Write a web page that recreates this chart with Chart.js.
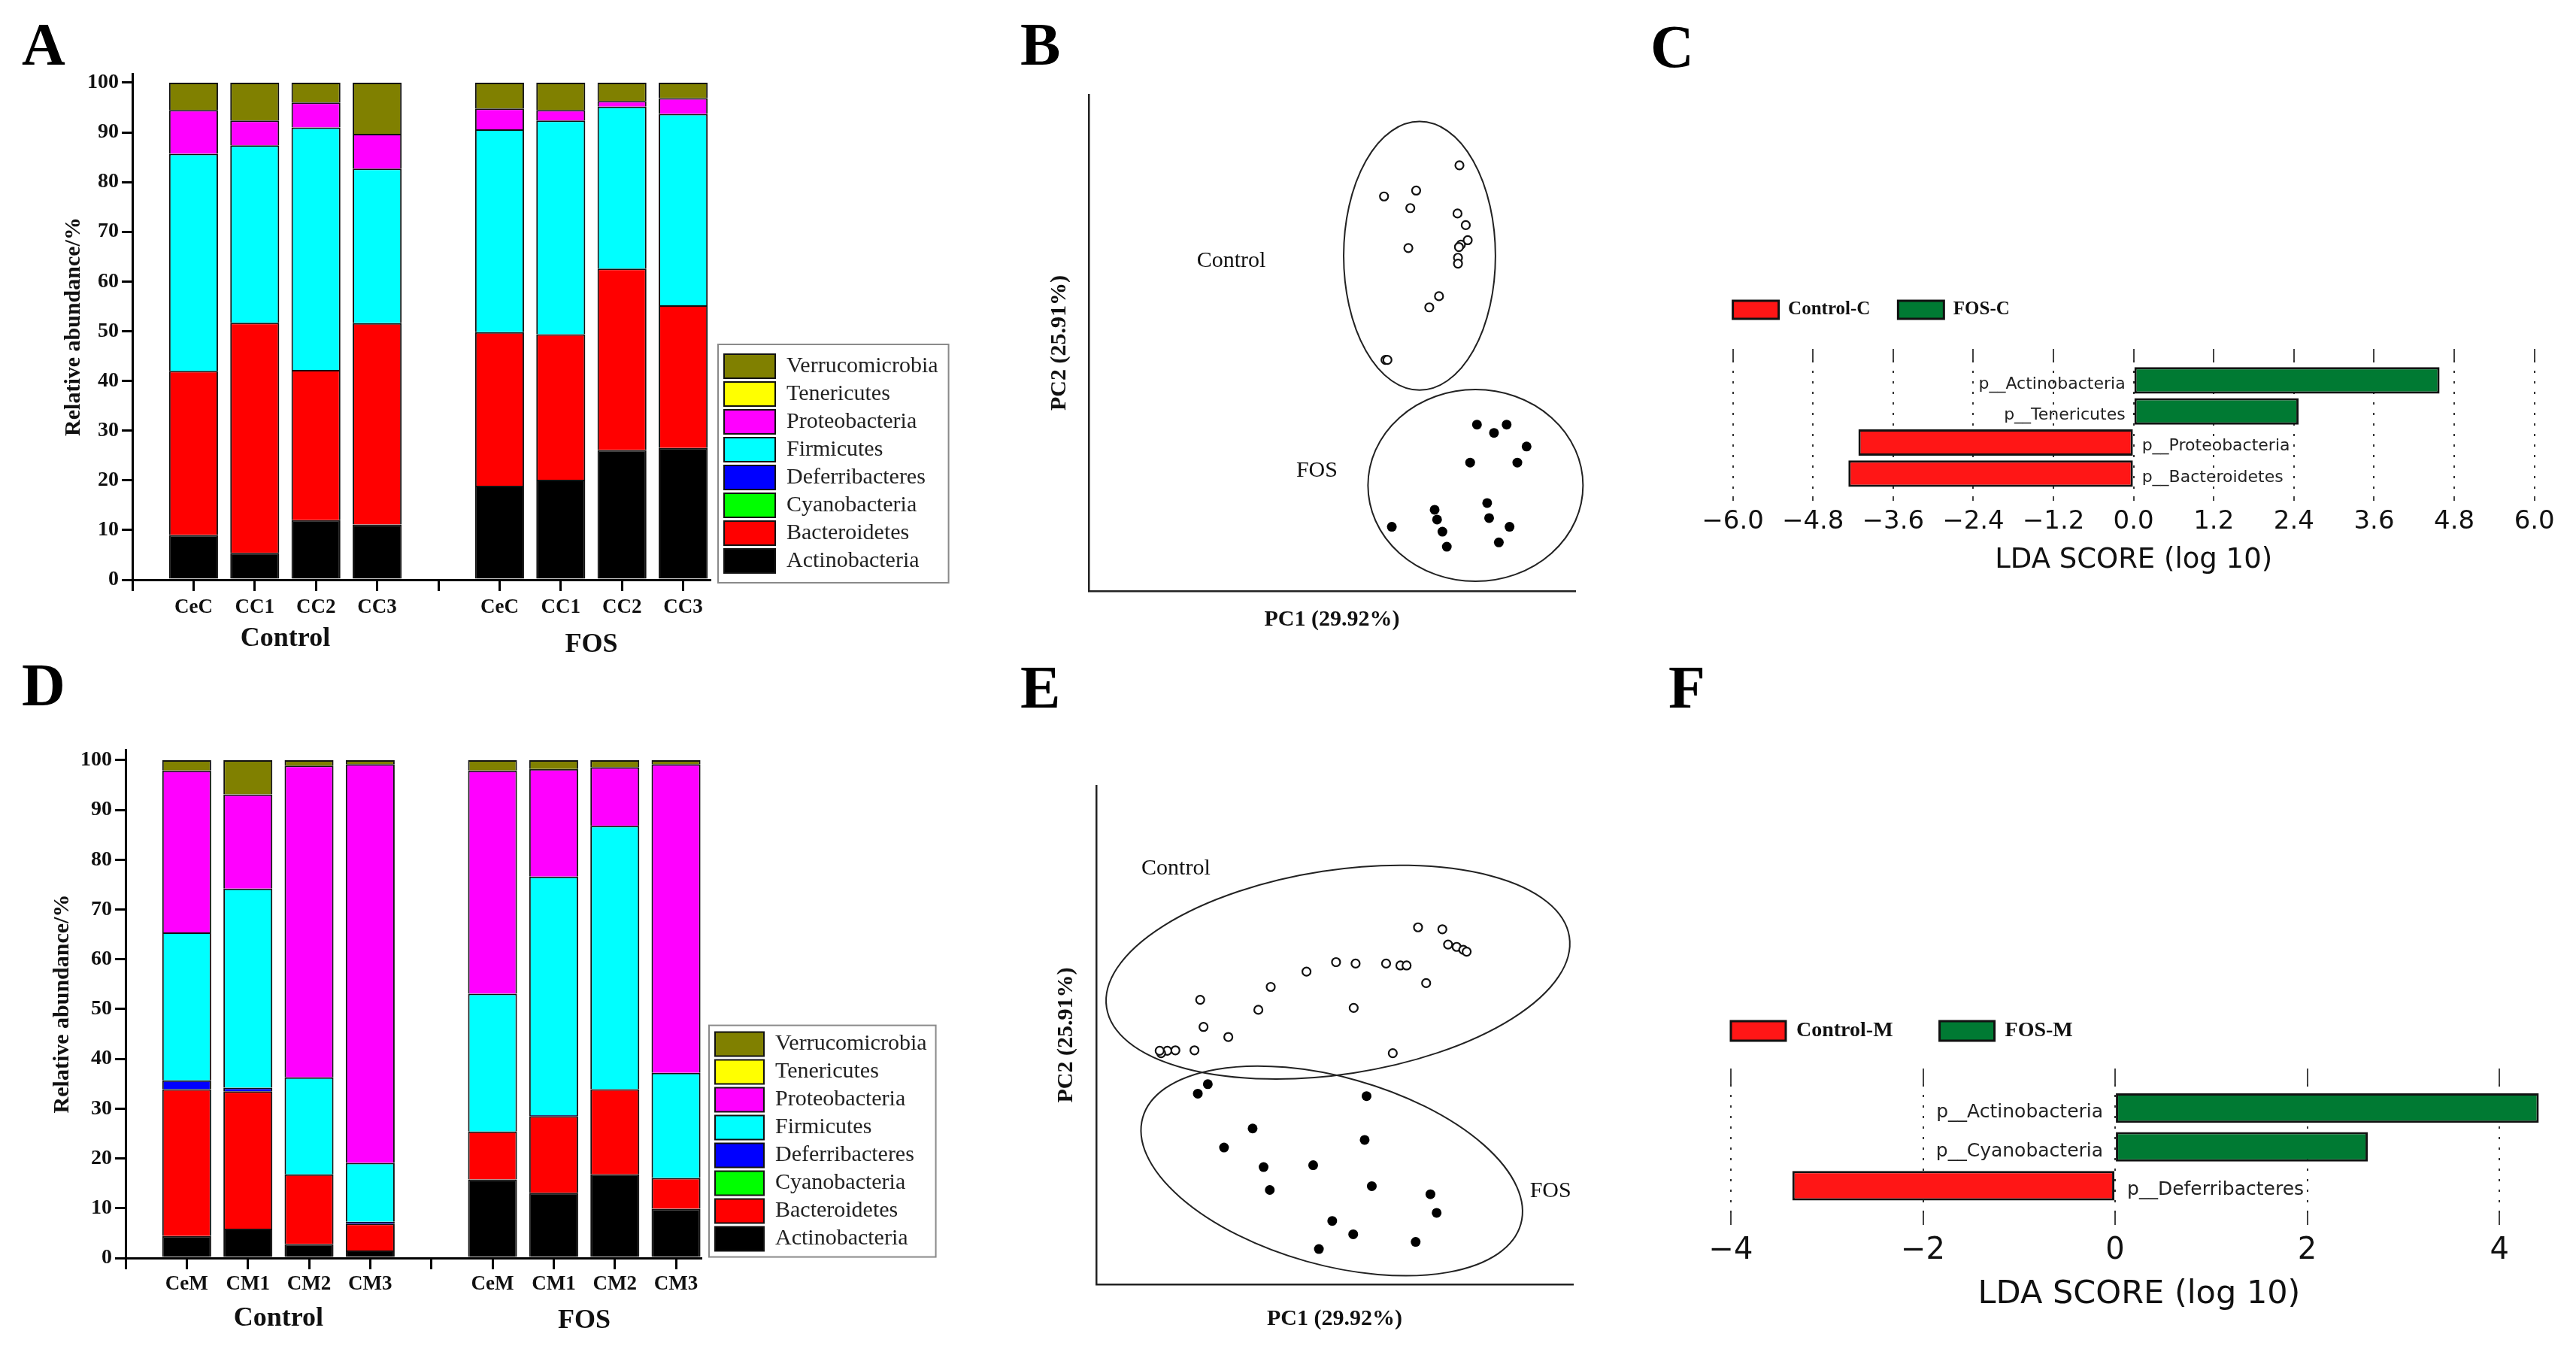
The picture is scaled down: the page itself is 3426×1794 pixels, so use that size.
<!DOCTYPE html>
<html lang="en">
<head>
<meta charset="utf-8">
<title>Phylum composition, PCoA and LEfSe</title>
<script src="https://cdn.jsdelivr.net/npm/chart.js@4.4.1/dist/chart.umd.min.js"></script>
<style>
  html, body { margin: 0; padding: 0; background: #fff; }
  body { position: relative; width: 3426px; height: 1794px; overflow: hidden; }
  .panel { position: absolute; }
  .panel canvas { display: block; }
  .letter { position: absolute; margin: 0; font: bold 80px "Liberation Serif", "Times New Roman", serif; line-height: 80px; color: #000; }
</style>
</head>
<body>
<div class="panel" style="left:0; top:0; width:1290px; height:880px;"><canvas id="chartA"></canvas></div>
<div class="panel" style="left:1300px; top:0; width:850px; height:880px;"><canvas id="chartB"></canvas></div>
<div class="panel" style="left:2150px; top:0; width:1276px; height:880px;"><canvas id="chartC"></canvas></div>
<div class="panel" style="left:0; top:880px; width:1275px; height:914px;"><canvas id="chartD"></canvas></div>
<div class="panel" style="left:1300px; top:880px; width:850px; height:914px;"><canvas id="chartE"></canvas></div>
<div class="panel" style="left:2150px; top:880px; width:1276px; height:914px;"><canvas id="chartF"></canvas></div>

<div class="letter" style="left:29px; top:19px;">A</div>
<div class="letter" style="left:1357px; top:19px;">B</div>
<div class="letter" style="left:2195px; top:22px;">C</div>
<div class="letter" style="left:29px; top:871px;">D</div>
<div class="letter" style="left:1357px; top:874px;">E</div>
<div class="letter" style="left:2219px; top:874px;">F</div>

<script>
const serif = "'Liberation Serif', 'Times New Roman', serif";
const sans = "'DejaVu Sans', 'Bitstream Vera Sans', sans-serif";

Chart.defaults.font.family = serif;
Chart.defaults.color = '#111';
Chart.defaults.animation = false;
Chart.defaults.plugins.tooltip.enabled = false;

// ---- relative abundance (A, D) ----
const phyla = ['Actinobacteria', 'Bacteroidetes', 'Cyanobacteria', 'Deferribacteres',
               'Firmicutes', 'Proteobacteria', 'Tenericutes', 'Verrucomicrobia'];
const phylumColors = ['#000000', '#ff0000', '#00ff00', '#0000ff', '#00ffff', '#ff00ff', '#ffff00', '#808000'];
const samplePos = [1, 2, 3, 4, 6, 7, 8, 9];
const groupNames = ['Control', 'FOS'];
const groupPos = [2.5, 7.5];
const sampleTicksA = ['', 'CeC', 'CC1', 'CC2', 'CC3', '', 'CeC', 'CC1', 'CC2', 'CC3'];
const sampleTicksD = ['', 'CeM', 'CM1', 'CM2', 'CM3', '', 'CeM', 'CM1', 'CM2', 'CM3'];
const abundanceTicks = [0, 5, 10, 15, 20, 25, 30, 35, 40, 45, 50, 55, 60, 65, 70, 75, 80, 85, 90, 95, 100];

const actinoA   = [9.0, 5.4, 12.0, 11.1, 18.9, 20.1, 26.1, 26.5];
const bacteroA  = [33.0, 46.3, 30.2, 40.5, 30.9, 29.3, 36.5, 28.7];
const cyanoA    = [0, 0, 0, 0, 0, 0, 0, 0];
const deferriA  = [0, 0, 0, 0, 0, 0, 0, 0];
const firmiA    = [43.7, 35.7, 48.8, 31.1, 40.8, 43.0, 32.6, 38.5];
const proteoA   = [8.8, 5.0, 5.0, 7.0, 4.2, 2.1, 1.1, 3.2];
const teneriA   = [0, 0, 0, 0, 0, 0, 0, 0];
const verrucoA  = [5.5, 7.6, 4.0, 10.3, 5.2, 5.5, 3.7, 3.1];

const actinoD   = [4.4, 5.9, 2.8, 1.5, 15.8, 13.1, 16.8, 9.9];
const bacteroD  = [29.5, 27.6, 14.0, 5.4, 9.6, 15.4, 17.1, 6.2];
const cyanoD    = [0, 0, 0, 0, 0, 0, 0, 0];
const deferriD  = [1.8, 0.7, 0, 0.4, 0, 0.2, 0, 0];
const firmiD    = [29.7, 40.0, 19.5, 11.8, 27.7, 47.9, 52.9, 21.1];
const proteoD   = [32.5, 18.9, 62.6, 80.1, 44.8, 21.6, 11.8, 62.0];
const teneriD   = [0, 0, 0, 0, 0, 0, 0, 0];
const verrucoD  = [2.1, 6.9, 1.1, 0.8, 2.1, 1.8, 1.4, 0.8];

// ---- PCoA scores (PC1, PC2) ----
const controlB = [[76.2, 87.5], [60.7, 81.1], [67.3, 82.3], [66.1, 78.7], [75.8, 77.6], [77.5, 75.2],
                  [77.9, 72.1], [76.5, 71.2], [76.1, 70.7], [65.7, 70.5], [75.9, 68.5], [75.9, 67.3],
                  [72.0, 60.6], [70.0, 58.3], [61.0, 47.5], [61.4, 47.5]];
const fosB = [[79.8, 34.2], [85.9, 34.2], [83.3, 32.5], [90.0, 29.7], [78.4, 26.4], [88.1, 26.4],
              [81.9, 18.1], [71.1, 16.7], [71.6, 14.7], [82.3, 15.0], [62.3, 13.2], [86.5, 13.2],
              [72.7, 12.2], [84.3, 10.0], [73.6, 9.1]];
// ellipse: centre x, centre y, semi-axis 1, semi-axis 2, angle (deg)
const ellipseControlB = [68.0, 68.9, 15.6, 27.6, 0];
const ellipseFosB = [79.5, 21.7, 22.1, 19.7, 0];

const controlE = [[67.5, 74.9], [72.6, 74.5], [73.8, 71.3], [75.6, 70.8], [77.0, 70.2], [77.7, 69.8],
                  [50.3, 67.6], [54.4, 67.3], [60.8, 67.3], [63.8, 66.9], [65.1, 66.9], [44.1, 65.6],
                  [69.2, 63.2], [36.6, 62.4], [21.8, 59.7], [34.0, 57.6], [54.0, 58.0], [22.5, 54.0],
                  [27.7, 51.9], [20.6, 49.1], [16.6, 49.1], [14.9, 49.0], [13.6, 48.5], [13.3, 49.0],
                  [62.2, 48.5]];
const fosE = [[23.4, 42.0], [21.3, 40.0], [56.7, 39.5], [32.8, 32.7], [56.3, 30.3], [26.8, 28.7],
              [35.1, 24.6], [45.5, 25.0], [36.4, 19.8], [57.8, 20.6], [70.1, 18.9], [71.4, 15.0],
              [49.5, 13.3], [53.9, 10.5], [67.0, 8.9], [46.7, 7.4]];
const ellipseControlE = [50.7, 65.5, 49.1, 21.4, 8.7];
const ellipseFosE = [49.4, 23.8, 41.2, 19.7, -15.7];

// ---- LEfSe LDA scores ----
const ldaNamesC = ['p__Actinobacteria', 'p__Tenericutes', 'p__Proteobacteria', 'p__Bacteroidetes'];
const ldaScoresC = [4.58, 2.47, -4.12, -4.27];
const ldaGroupsC = ['Control-C', 'FOS-C'];
const ldaTicksC = [-6.0, -4.8, -3.6, -2.4, -1.2, 0.0, 1.2, 2.4, 3.6, 4.8, 6.0];

const ldaNamesF = ['p__Actinobacteria', 'p__Cyanobacteria', 'p__Deferribacteres'];
const ldaScoresF = [4.41, 2.63, -3.36];
const ldaGroupsF = ['Control-M', 'FOS-M'];
const ldaTicksF = [-4, -2, 0, 2, 4];

// move the legend items to a fixed spot, optionally box them in
const legendPlace = {
  id: 'legendPlace',
  afterUpdate(chart, args, opts) {
    const lg = chart.legend;
    if (!lg || opts.x === undefined || !(lg.legendHitBoxes && lg.legendHitBoxes.length)) return;
    const first = lg.legendHitBoxes[0];
    const dx = opts.x - first.left;
    const dy = opts.y - first.top;
    lg.left += dx; lg.right += dx;
    lg.top += dy; lg.bottom += dy;
    lg.bottom = Math.max(lg.bottom, opts.y + 120);
    lg.legendHitBoxes.forEach(b => { b.left += dx; b.top += dy; });
  },
  afterDraw(chart, args, opts) {
    if (!opts.frame) return;
    const boxes = chart.legend.legendHitBoxes;
    const [ml, mt, mr, mb] = opts.frame;
    const l = Math.min(...boxes.map(b => b.left)) - ml;
    const t = Math.min(...boxes.map(b => b.top)) - mt;
    const r = Math.max(...boxes.map(b => b.left + b.width)) + mr;
    const btm = Math.max(...boxes.map(b => b.top + b.height)) + mb;
    const ctx = chart.ctx;
    ctx.save();
    ctx.strokeStyle = '#8a8a8a';
    ctx.lineWidth = 2;
    ctx.strokeRect(l, t, r - l, btm - t);
    ctx.restore();
  }
};

const groupLabels = {
  id: 'groupLabels',
  afterDraw(chart, args, opts) {
    if (!opts.names) return;
    const {ctx, chartArea} = chart;
    const x = chart.scales.x;
    ctx.save();
    ctx.font = `bold 36px ${serif}`;
    ctx.fillStyle = '#111';
    ctx.textAlign = 'center';
    ctx.textBaseline = 'middle';
    opts.names.forEach((name, i) => {
      ctx.fillText(name, x.getPixelForValue(opts.at[i]), chartArea.bottom + opts.dy[i]);
    });
    ctx.restore();
  }
};

const pcoaMarks = {
  id: 'pcoaMarks',
  afterDatasetsDraw(chart, args, opts) {
    if (!opts.ellipses) return;
    const ctx = chart.ctx;
    const x = chart.scales.x, y = chart.scales.y;
    const ux = x.getPixelForValue(1) - x.getPixelForValue(0);
    const uy = y.getPixelForValue(0) - y.getPixelForValue(1);
    ctx.save();
    ctx.strokeStyle = '#222';
    ctx.lineWidth = 2;
    opts.ellipses.forEach(e => {
      ctx.beginPath();
      ctx.ellipse(x.getPixelForValue(e[0]), y.getPixelForValue(e[1]), e[2] * ux, e[3] * uy,
                  -e[4] * Math.PI / 180, 0, 2 * Math.PI);
      ctx.stroke();
    });
    ctx.font = `30px ${serif}`;
    ctx.fillStyle = '#111';
    ctx.textAlign = 'center';
    ctx.textBaseline = 'middle';
    opts.names.forEach((name, i) => {
      ctx.fillText(name, x.getPixelForValue(opts.textAt[i][0]), y.getPixelForValue(opts.textAt[i][1]));
    });
    ctx.restore();
  }
};

const ldaLabels = {
  id: 'ldaLabels',
  afterDatasetsDraw(chart, args, opts) {
    if (!opts.names) return;
    const ctx = chart.ctx;
    const x = chart.scales.x, y = chart.scales.y;
    const zero = x.getPixelForValue(0);
    ctx.save();
    ctx.font = `${opts.size}px ${sans}`;
    ctx.fillStyle = '#222';
    ctx.textBaseline = 'middle';
    opts.names.forEach((name, i) => {
      const up = opts.scores[i] > 0;
      ctx.textAlign = up ? 'right' : 'left';
      ctx.fillText(name, zero + (up ? -opts.gap : opts.gap), y.getPixelForValue(i) + opts.drop);
    });
    ctx.restore();
  }
};

function abundanceChart(id, series, tickLabels, cfg) {
  new Chart(document.getElementById(id), {
    type: 'bar',
    data: {
      datasets: phyla.map((name, k) => ({
        label: name,
        data: series[k].map((v, i) => ({x: samplePos[i], y: v})),
        backgroundColor: phylumColors[k],
        borderColor: '#111',
        borderWidth: 2,
        barPercentage: 0.8,
        categoryPercentage: 1
      }))
    },
    options: {
      responsive: true,
      maintainAspectRatio: false,
      layout: {padding: {top: cfg.top, right: cfg.right}},
      plugins: {
        legend: {
          position: 'right',
          align: 'start',
          reverse: true,
          labels: {boxWidth: cfg.boxW, boxHeight: 32, padding: 5, color: '#222', font: {size: 30}}
        },
        legendPlace: {x: cfg.legX, y: cfg.legY, frame: cfg.frame},
        groupLabels: {names: groupNames, at: groupPos, dy: cfg.groupDy}
      },
      scales: {
        x: {
          type: 'linear',
          stacked: true,
          offset: false,
          min: 0,
          max: cfg.xMax,
          afterBuildTicks: s => { s.ticks = tickLabels.map((t, i) => ({value: i})); },
          afterFit: s => { s.height = cfg.xHeight; },
          border: {color: '#000', width: 3},
          grid: {offset: false, drawOnChartArea: false, color: '#000', lineWidth: 3, tickLength: 15},
          ticks: {
            autoSkip: false, maxRotation: 0, padding: cfg.xTickPad, color: '#111',
            font: {size: 27, weight: 'bold'},
            callback: v => tickLabels[v]
          }
        },
        y: {
          stacked: true,
          min: 0,
          max: cfg.yMax,
          afterBuildTicks: s => { s.ticks = abundanceTicks.map(v => ({value: v})); },
          afterFit: s => { s.width = cfg.yWidth; },
          border: {color: '#000', width: 3},
          grid: {
            drawOnChartArea: false, color: '#000', lineWidth: 3, tickLength: 14,
            tickBorderDash: c => (c.tick && c.tick.value % 10 ? [7, 7] : []),
            tickBorderDashOffset: c => (c.tick && c.tick.value % 10 ? 7 : 0)
          },
          ticks: {
            padding: 4, color: '#111', font: {size: 28, weight: 'bold'},
            callback: v => (v % 10 === 0 ? String(v) : '')
          },
          title: {
            display: true, text: 'Relative abundance/%', color: '#111',
            font: {size: 30, weight: 'bold'}, padding: {top: cfg.yTitlePad}
          }
        }
      }
    },
    plugins: [legendPlace, groupLabels]
  });
}

function pcoaChart(id, control, fos, ellipses, cfg) {
  new Chart(document.getElementById(id), {
    type: 'scatter',
    data: {
      datasets: [
        {
          label: 'Control',
          data: control.map(p => ({x: p[0], y: p[1]})),
          pointRadius: 5.5, pointBorderWidth: 2.2,
          pointBackgroundColor: '#fff', pointBorderColor: '#111'
        },
        {
          label: 'FOS',
          data: fos.map(p => ({x: p[0], y: p[1]})),
          pointRadius: 6.5, pointBorderWidth: 0,
          pointBackgroundColor: '#000', pointBorderColor: '#000'
        }
      ]
    },
    options: {
      responsive: true,
      maintainAspectRatio: false,
      layout: {padding: {top: cfg.top, right: cfg.right}},
      plugins: {
        legend: {display: false},
        pcoaMarks: {ellipses: ellipses, names: groupNames, textAt: cfg.textAt}
      },
      scales: {
        x: {
          min: 0, max: 100,
          afterFit: s => { s.height = cfg.xHeight; },
          grid: {display: false},
          ticks: {display: false},
          border: {color: '#222', width: 2.5},
          title: {display: true, text: 'PC1 (29.92%)', color: '#111',
                  font: {size: 30, weight: 'bold'}, padding: {bottom: cfg.xTitlePad}}
        },
        y: {
          min: 0, max: cfg.yMax,
          afterFit: s => { s.width = cfg.yWidth; },
          grid: {display: false},
          ticks: {display: false},
          border: {color: '#222', width: 2.5},
          title: {display: true, text: 'PC2 (25.91%)', color: '#111',
                  font: {size: 30, weight: 'bold'}, padding: {top: cfg.yTitlePad}}
        }
      }
    },
    plugins: [pcoaMarks]
  });
}

function ldaChart(id, names, scores, groups, ticks, cfg) {
  const points = scores.map((v, i) => ({x: v, y: i}));
  const fmt = v => (v < 0 ? '\u2212' : '') + Math.abs(v).toFixed(cfg.digits);
  const tickList = s => { s.ticks = ticks.map(v => ({value: v})); };
  new Chart(document.getElementById(id), {
    type: 'bar',
    data: {
      datasets: [
        {label: groups[0], data: points.filter(p => p.x < 0), backgroundColor: '#ff1616'},
        {label: groups[1], data: points.filter(p => p.x > 0), backgroundColor: '#007a33'}
      ]
    },
    options: {
      indexAxis: 'y',
      responsive: true,
      maintainAspectRatio: false,
      layout: {padding: {left: cfg.left, top: cfg.top, right: cfg.right}},
      datasets: {
        bar: {borderColor: '#111', borderWidth: 3, borderSkipped: false, grouped: false,
              categoryPercentage: 1, barPercentage: cfg.barPct}
      },
      plugins: {
        legend: {
          position: 'top',
          align: 'start',
          maxHeight: 30,
          labels: {boxWidth: cfg.boxW, boxHeight: cfg.boxH, padding: cfg.legPad, color: '#111',
                   font: {size: cfg.legSize, weight: 'bold'}}
        },
        legendPlace: {x: cfg.legX, y: cfg.legY},
        ldaLabels: {names: names, scores: scores, size: cfg.nameSize, gap: cfg.gap, drop: cfg.drop}
      },
      scales: {
        x: {
          type: 'linear', min: ticks[0], max: cfg.xMax, z: 1,
          afterBuildTicks: tickList,
          afterFit: s => { s.height = cfg.xHeight; },
          border: {display: false, dash: [3, 11]},
          grid: {color: '#333', lineWidth: 2, tickLength: cfg.bottomTick, tickColor: '#444', tickBorderDash: []},
          ticks: {autoSkip: false, maxRotation: 0, padding: cfg.tickPad, color: '#111',
                  font: {family: sans, size: cfg.tickSize}, callback: fmt},
          title: {display: true, text: 'LDA SCORE (log 10)', color: '#111',
                  font: {family: sans, size: cfg.titleSize}, padding: {bottom: cfg.titlePad}}
        },
        x2: {
          type: 'linear', axis: 'x', position: 'top', min: ticks[0], max: cfg.xMax,
          afterBuildTicks: tickList,
          afterFit: s => { s.height = cfg.topTick; },
          border: {display: false},
          grid: {drawOnChartArea: false, color: '#444', lineWidth: 2, tickLength: cfg.topTick},
          ticks: {display: false}
        },
        y: {
          type: 'linear', reverse: true, offset: false, min: cfg.yMin, max: cfg.yMax, display: false,
          grid: {offset: false},
          afterBuildTicks: s => { s.ticks = names.map((n, i) => ({value: i})); }
        }
      }
    },
    plugins: [legendPlace, ldaLabels]
  });
}

abundanceChart('chartA',
  [actinoA, bacteroA, cyanoA, deferriA, firmiA, proteoA, teneriA, verrucoA], sampleTicksA,
  {top: 98, right: 46, xMax: 9.44, yMax: 101.8, xHeight: 109, yWidth: 176, boxW: 68,
   legX: 963, legY: 471, frame: [8, 13, 14, 13], groupDy: [79, 87], xTickPad: 6, yTitlePad: 80});

abundanceChart('chartD',
  [actinoD, bacteroD, cyanoD, deferriD, firmiD, proteoD, teneriD, verrucoD], sampleTicksD,
  {top: 117, right: 46, xMax: 9.41, yMax: 102.1, xHeight: 121, yWidth: 167, boxW: 65,
   legX: 951, legY: 492.6, frame: [8, 9, 12, 8], groupDy: [81, 84], xTickPad: 4, yTitlePad: 65});

pcoaChart('chartB', controlB, fosB, [ellipseControlB, ellipseFosB],
  {top: 126, right: 55, xHeight: 94, yWidth: 148, yMax: 102.0, xTitlePad: 38, yTitlePad: 91,
   textAt: [[29.3, 67.9], [46.9, 24.7]]});

pcoaChart('chartE', controlE, fosE, [ellipseControlE, ellipseFosE],
  {top: 165, right: 58, xHeight: 86, yWidth: 158, yMax: 104.6, xTitlePad: 22, yTitlePad: 100,
   textAt: [[16.7, 87.2], [95.3, 19.5]]});

ldaChart('chartC', ldaNamesC, ldaScoresC, ldaGroupsC, ldaTicksC,
  {left: 154.6, top: 434, right: 55.3, xMax: 6, yMin: -0.65, yMax: 3.73, barPct: 0.85,
   boxW: 61, boxH: 24, legPad: 37, legSize: 25, legX: 154.6, legY: 399.5,
   nameSize: 22, gap: 11, drop: 5, xHeight: 220, bottomTick: 6, topTick: 15, tickPad: 8,
   tickSize: 34, titleSize: 37, titlePad: 112, digits: 1});

ldaChart('chartF', ldaNamesF, ldaScoresF, ldaGroupsF, ldaTicksF,
  {left: 152, top: 511, right: 38, xMax: 4.5, yMin: -0.61, yMax: 2.70, barPct: 0.76,
   boxW: 73, boxH: 26, legPad: 62, legSize: 28, legX: 152, legY: 477,
   nameSize: 25, gap: 16, drop: 6, xHeight: 181, bottomTick: 16, topTick: 21, tickPad: 11,
   tickSize: 40, titleSize: 43, titlePad: 46, digits: 0});
</script>
</body>
</html>
